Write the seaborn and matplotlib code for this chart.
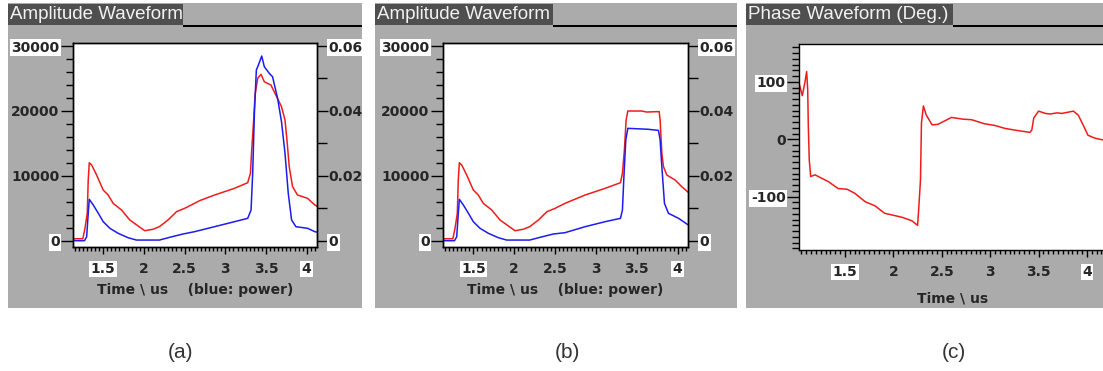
import numpy as np
import matplotlib
matplotlib.use("Agg")
import matplotlib.pyplot as plt
from matplotlib.patches import Rectangle
from matplotlib.ticker import MultipleLocator
import seaborn as sns

# ---- data ----
# (a) amplitude (red, left axis) and power (blue, right axis)
t_a_red = [1.13, 1.25, 1.276, 1.304, 1.316, 1.329, 1.358, 1.419, 1.50, 1.561, 1.622, 1.725,
           1.827, 1.929, 2.01, 2.11, 2.19, 2.296, 2.40, 2.50, 2.622, 2.684, 2.867, 3.112,
           3.275, 3.308, 3.324, 3.348, 3.365, 3.397, 3.438, 3.479, 3.56, 3.62, 3.69, 3.733,
           3.757, 3.785, 3.826, 3.887, 4.01, 4.10, 4.13]
amp_a = [300, 300, 1910, 4220, 9350, 12020, 11670, 10120, 7810, 7040, 5760, 4730,
         3190, 2270, 1540, 1760, 2160, 3190, 4470, 4990, 5760, 6170, 7040, 8070,
         8940, 10390, 13980, 18600, 22450, 25020, 25640, 24500, 23990, 22450, 20650, 18600,
         15520, 11400, 8320, 7040, 6530, 5500, 5300]
t_a_blue = [1.13, 1.27, 1.297, 1.316, 1.329, 1.378, 1.44, 1.50, 1.582, 1.684, 1.806, 1.909,
            2.19, 2.316, 2.479, 2.622, 2.867, 3.112, 3.275, 3.316, 3.336, 3.357, 3.381,
            3.406, 3.447, 3.479, 3.54, 3.58, 3.642, 3.69, 3.733, 3.773, 3.814, 3.867,
            4.01, 4.10, 4.13]
pow_a = [0.0, 0.0, 0.00124, 0.00844, 0.01276, 0.0110, 0.00844, 0.00586, 0.00382, 0.00228,
         0.00092, 0.0002, 0.0002, 0.00104, 0.00206, 0.00278, 0.00432, 0.00586, 0.0069,
         0.00946, 0.02078, 0.03926, 0.0526, 0.05414, 0.05692, 0.05362, 0.05158, 0.05054,
         0.04388, 0.03668, 0.02694, 0.0146, 0.00638, 0.00432, 0.00382, 0.00278, 0.0026]

# (b) amplitude and power with the flat top
t_b_red = [1.13, 1.25, 1.276, 1.304, 1.316, 1.329, 1.358, 1.419, 1.50, 1.561, 1.622, 1.725,
           1.827, 1.929, 2.01, 2.11, 2.19, 2.296, 2.40, 2.50, 2.622, 2.867, 3.112, 3.30,
           3.324, 3.348, 3.369, 3.39, 3.56, 3.62, 3.773, 3.785, 3.806, 3.826, 3.867, 3.969,
           4.05, 4.13]
amp_b = [300, 300, 1910, 4220, 9350, 12020, 11670, 10120, 7810, 7040, 5760, 4730,
         3190, 2270, 1540, 1760, 2160, 3190, 4470, 4990, 5760, 7040, 8070, 8940,
         10390, 13980, 18600, 19990, 19990, 19830, 19900, 18600, 13470, 11400, 10120, 9350,
         8320, 7450]
t_b_blue = [1.13, 1.27, 1.297, 1.316, 1.329, 1.378, 1.44, 1.50, 1.582, 1.684, 1.806, 1.909,
            2.19, 2.316, 2.479, 2.622, 2.867, 3.112, 3.30, 3.324, 3.34, 3.365, 3.39, 3.64,
            3.765, 3.785, 3.806, 3.838, 3.887, 4.01, 4.13]
pow_b = [0.0, 0.0, 0.00124, 0.00844, 0.01276, 0.0110, 0.00844, 0.00586, 0.00382, 0.00228,
         0.00092, 0.0002, 0.0002, 0.00104, 0.00206, 0.00248, 0.00432, 0.00586, 0.0069,
         0.00946, 0.0187, 0.03104, 0.03464, 0.03434, 0.0340, 0.03104, 0.0228, 0.01152,
         0.00844, 0.0069, 0.00484]

# (c) phase in degrees
t_c = [1.025, 1.059, 1.087, 1.104, 1.115, 1.121, 1.131, 1.146, 1.19, 1.33, 1.43, 1.52,
       1.60, 1.71, 1.81, 1.91, 2.09, 2.19, 2.25, 2.26, 2.28, 2.29, 2.31, 2.34, 2.40,
       2.46, 2.60, 2.72, 2.81, 2.94, 3.05, 3.15, 3.29, 3.41, 3.43, 3.45, 3.50, 3.57,
       3.62, 3.69, 3.74, 3.86, 3.91, 3.96, 4.01, 4.08, 4.16, 4.25]
phase_c = [98, 76, 100, 118, 86, 25, -36, -65, -62, -74, -86, -87,
           -94, -109, -116, -129, -136, -142, -150, -126, -71, 28, 58, 42, 25,
           26, 38, 35, 34, 27, 24, 19, 15, 12, 16, 37, 49, 45,
           44, 46, 45, 49, 42, 25, 7, 2, -1, -2]

x_ticks = [1.5, 2, 2.5, 3, 3.5, 4]
x_labels = ["1.5", "2", "2.5", "3", "3.5", "4"]
amp_ticks = [0, 10000, 20000, 30000]
pow_ticks = [0, 0.02, 0.04, 0.06]
pow_labels = ["0", "0.02", "0.04", "0.06"]
phase_ticks = [-100, 0, 100]
titles = ["Amplitude Waveform", "Amplitude Waveform", "Phase Waveform (Deg.)"]
sub_labels = ["(a)", "(b)", "(c)"]

# ---- layout (pixels of a 1103 x 371 picture) ----
W, H = 1103, 371
sns.set_style("white")
plt.rcParams['font.family'] = ['DejaVu Sans']
fig = plt.figure(figsize=(W / 100, H / 100), dpi=100)
fig.patch.set_facecolor("white")

GRAY = "#ababab"
BAR = "#4f4f4f"
RED = "#f01c1c"
BLUE = "#1c1cf0"
PT = 0.72  # points per pixel


def box(x0, y0, x1, y1):
    return [x0 / W, 1 - y1 / H, (x1 - x0) / W, (y1 - y0) / H]


def add_rect(x0, y0, x1, y1, color, z=-5):
    b = box(x0, y0, x1, y1)
    fig.add_artist(Rectangle((b[0], b[1]), b[2], b[3], transform=fig.transFigure,
                             facecolor=color, edgecolor="none", zorder=z))


panels = [(8, 3, 362, 308), (375, 3, 737, 308), (746, 3, 1103, 308)]
bars = [183, 553, 953]
for (x0, y0, x1, y1), bx, title in zip(panels, bars, titles):
    add_rect(x0, y0, x1, y1, GRAY)
    add_rect(x0, y0 + 1, bx, 25, BAR, z=-4)
    add_rect(bx, 25, x1, 26.5, "black", z=-4)
    fig.text((x0 + 2) / W, 1 - 14.5 / H, title, color="#f2f2f2", fontsize=13.5,
             family="Liberation Sans", ha="left", va="center")

for xc, lab in zip([180, 567, 954], sub_labels):
    fig.text(xc / W, 1 - 352 / H, lab, fontsize=15, color="#333333", ha="center",
             va="center", family="Liberation Sans")

lab_font = dict(fontsize=10, fontweight="bold")
white_box = dict(facecolor="white", edgecolor="none", pad=1)


def style_x(ax, lim):
    ax.set_xlim(*lim)
    ax.set_xticks(x_ticks, x_labels, **lab_font)
    ax.xaxis.set_minor_locator(MultipleLocator(0.05))
    ax.tick_params(axis="x", which="major", length=7 * PT, width=1, pad=8 * PT,
                   bottom=True, color="black")
    ax.tick_params(axis="x", which="minor", length=4 * PT, width=1, bottom=True,
                   color="black")
    labs = ax.get_xticklabels()
    labs[0].set_bbox(white_box)
    labs[-1].set_bbox(white_box)


def amp_panel(rect, t_red, amp, t_blue, pw):
    ax = fig.add_axes(box(*rect))
    ax.set_facecolor("white")
    sns.lineplot(x=t_red, y=amp, ax=ax, color=RED, linewidth=1.1, estimator=None, sort=False)
    ax.set_ylim(-970, 30470)
    ax.set_yticks(amp_ticks, [str(v) for v in amp_ticks], **lab_font)
    ax.yaxis.set_minor_locator(MultipleLocator(2000))
    ax.tick_params(axis="y", which="major", length=12 * PT, width=1, pad=1, left=True,
                   color="black")
    ax.tick_params(axis="y", which="minor", length=7 * PT, width=1, left=True, color="black")
    ylabs = ax.get_yticklabels()
    ylabs[0].set_bbox(white_box)
    ylabs[-1].set_bbox(white_box)
    style_x(ax, (1.129, 4.126))
    ax.set_xlabel("Time \\ us    (blue: power)", labelpad=7 * PT, **lab_font)
    ax.set_ylabel("")

    ax2 = ax.twinx()
    sns.lineplot(x=t_blue, y=pw, ax=ax2, color=BLUE, linewidth=1.1, estimator=None, sort=False)
    ax2.set_ylim(-970 / 500000, 30470 / 500000)
    ax2.set_yticks(pow_ticks, pow_labels, **lab_font)
    ax2.yaxis.set_minor_locator(MultipleLocator(0.01))
    ax2.tick_params(axis="y", which="major", length=11 * PT, width=1, pad=0.5, right=True,
                    color="black")
    ax2.tick_params(axis="y", which="minor", length=10 * PT, width=1, right=True,
                    color="black")
    rlabs = ax2.get_yticklabels()
    rlabs[0].set_bbox(white_box)
    rlabs[-1].set_bbox(white_box)
    ax2.set_ylabel("")
    for a in (ax, ax2):
        for s in a.spines.values():
            s.set_color("black")
            s.set_linewidth(1)
    return ax


amp_panel((73, 43, 317, 247), t_a_red, amp_a, t_a_blue, pow_a)
amp_panel((443, 43, 688, 247), t_b_red, amp_b, t_b_blue, pow_b)

# (c) phase waveform, cut off at the right edge of the picture
axc = fig.add_axes(box(799, 44, 1135, 250))
axc.set_facecolor("white")
sns.lineplot(x=t_c, y=phase_c, ax=axc, color=RED, linewidth=1.1, estimator=None, sort=False)
axc.set_ylim(-193, 166)
axc.set_yticks(phase_ticks, [str(v) for v in phase_ticks], **lab_font)
axc.yaxis.set_minor_locator(MultipleLocator(10))
axc.tick_params(axis="y", which="major", length=12 * PT, width=1, pad=1, left=True,
                color="black")
axc.tick_params(axis="y", which="minor", length=7 * PT, width=1, left=True, color="black")
clabs = axc.get_yticklabels()
clabs[0].set_bbox(white_box)
clabs[-1].set_bbox(white_box)
style_x(axc, (1.025, 1.025 + 336 / 96.8))
axc.set_xlabel("Time \\ us", **lab_font)
axc.xaxis.set_label_coords((953 - 799) / 336, -0.2)
axc.set_ylabel("")
for s in axc.spines.values():
    s.set_color("black")
    s.set_linewidth(1)

fig.savefig("out.png", dpi=100)
